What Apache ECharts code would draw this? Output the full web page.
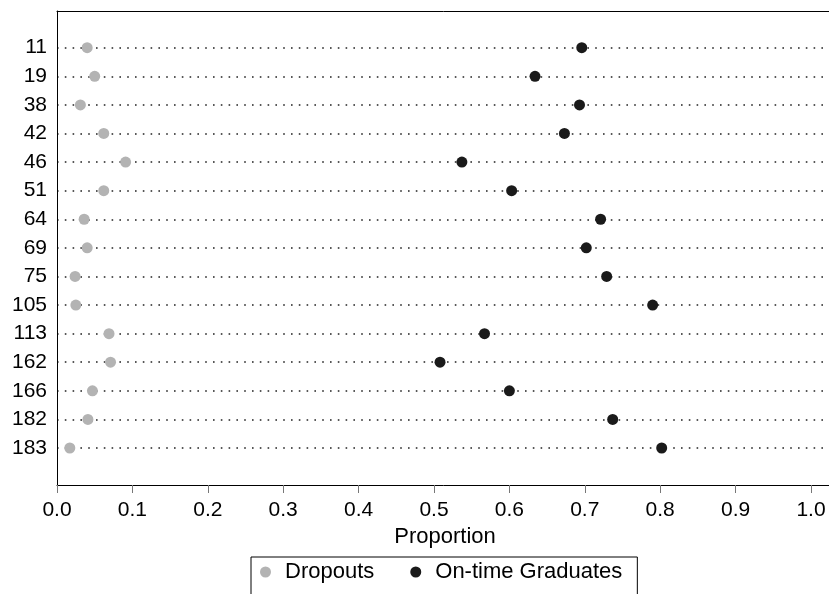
<!DOCTYPE html>
<html>
<head>
<meta charset="utf-8">
<script src="https://cdn.jsdelivr.net/npm/echarts@6/dist/echarts.min.js"></script>
<style>
  html, body { margin: 0; padding: 0; background: #fff; }
  #chart { width: 829px; height: 594px; }
</style>
</head>
<body>
<div id="chart"></div>
<script>
// School IDs, top to bottom
const schools = ['11', '19', '38', '42', '46', '51', '64', '69', '75', '105', '113', '162', '166', '182', '183'];
// Proportion of students who dropped out
const dropouts = [0.040, 0.050, 0.031, 0.062, 0.091, 0.062, 0.036, 0.040, 0.024, 0.025, 0.069, 0.071, 0.047, 0.041, 0.017];
// Proportion of students who graduated on time
const graduates = [0.696, 0.634, 0.693, 0.673, 0.537, 0.603, 0.721, 0.702, 0.729, 0.790, 0.567, 0.508, 0.600, 0.737, 0.802];
// Tick step of the proportion axis
const xStep = 0.1;

const FONT = '"Liberation Sans", Arial, Helvetica, sans-serif';
const GREY = '#b3b3b3';
const BLACK = '#1a1a1a';

// The plot frame runs past the right edge of the page, so the
// proportion axis extends slightly beyond 1.0.
const xMax = 1.0292;

const chart = echarts.init(document.getElementById('chart'), null, { renderer: 'canvas' });

const pairs = (vals) => vals.map((v, i) => [v, schools[i]]);
const frameLine = { show: true, lineStyle: { color: '#000', width: 1 } };

chart.setOption({
  animation: false,
  backgroundColor: '#fff',
  textStyle: { fontFamily: FONT },
  grid: [
    // frame + proportion axis
    { left: 57, top: 11, width: 776, height: 474, outerBoundsMode: 'none' },
    // rows of schools
    { left: 57, top: 47.7, width: 776, height: 400.3, outerBoundsMode: 'none' }
  ],
  xAxis: [
    {
      gridIndex: 0, type: 'value', position: 'bottom', min: 0, max: xMax, interval: xStep,
      name: 'Proportion', nameLocation: 'middle', nameGap: 35,
      nameTextStyle: { fontFamily: FONT, fontSize: 22, color: '#000', verticalAlign: 'top' },
      axisLine: frameLine,
      axisTick: { show: true, length: 8, lineStyle: { color: '#777', width: 1 } },
      axisLabel: {
        margin: 15, fontFamily: FONT, fontSize: 21, color: '#000',
        showMaxLabel: false,
        formatter: (v) => Math.abs(v / xStep - Math.round(v / xStep)) < 1e-6 ? v.toFixed(1) : ''
      },
      splitLine: { show: false }
    },
    // top edge of the frame
    {
      gridIndex: 0, type: 'value', position: 'top', min: 0, max: xMax,
      axisLine: frameLine, axisTick: { show: false }, axisLabel: { show: false },
      splitLine: { show: false }
    },
    { gridIndex: 1, type: 'value', min: 0, max: xMax, show: false }
  ],
  yAxis: [
    // left edge of the frame
    {
      gridIndex: 0, type: 'value', position: 'left', min: 0, max: 1,
      axisLine: frameLine, axisTick: { show: false }, axisLabel: { show: false },
      splitLine: { show: false }
    },
    {
      gridIndex: 1, type: 'category', data: schools, inverse: true, boundaryGap: false,
      axisLine: { show: false },
      axisTick: { show: false },
      axisLabel: { margin: 10, fontFamily: FONT, fontSize: 21, color: '#000' },
      splitLine: { show: true, lineStyle: { color: '#222', width: 1.6, type: [1.6, 6.2] } }
    }
  ],
  legend: {
    show: true,
    left: 251, top: 557,
    orient: 'horizontal',
    backgroundColor: '#fff',
    borderColor: '#000', borderWidth: 1,
    padding: [4, 15, 30, 9],
    itemWidth: 11, itemHeight: 11, itemGap: 36,
    icon: 'circle',
    textStyle: { fontFamily: FONT, fontSize: 22, color: '#000', padding: [0, 0, 0, 9] },
    data: ['Dropouts', 'On-time Graduates']
  },
  series: [
    {
      name: 'Dropouts', type: 'scatter', xAxisIndex: 2, yAxisIndex: 1,
      symbol: 'circle', symbolSize: 11,
      itemStyle: { color: GREY, opacity: 1 },
      data: pairs(dropouts), z: 3
    },
    {
      name: 'On-time Graduates', type: 'scatter', xAxisIndex: 2, yAxisIndex: 1,
      symbol: 'circle', symbolSize: 11,
      itemStyle: { color: BLACK, opacity: 1 },
      data: pairs(graduates), z: 3
    }
  ]
});
</script>
</body>
</html>
